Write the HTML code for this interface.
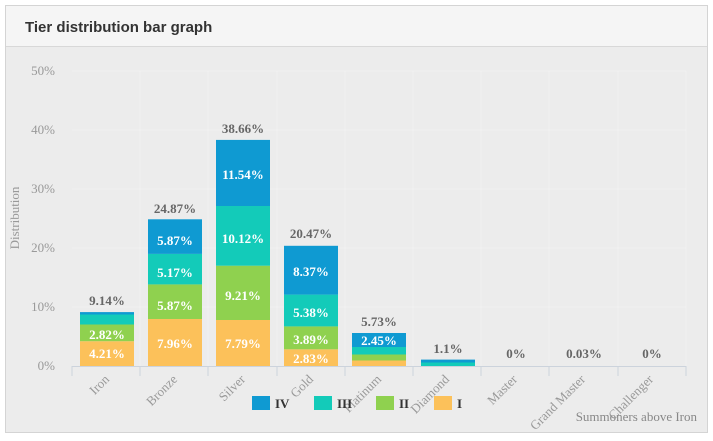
<!DOCTYPE html><html><head><style>body{margin:0;background:#fff}</style></head><body>
<svg width="713" height="436" xmlns="http://www.w3.org/2000/svg" font-family="Liberation Serif, serif">
<rect x="5.5" y="5.5" width="702" height="427" fill="#ececec" stroke="#d4d4d4"/>
<rect x="6" y="6" width="701" height="40" fill="#f5f5f5"/>
<line x1="6" y1="46.5" x2="707" y2="46.5" stroke="#d8d8d8"/>
<text x="25" y="32" font-family="Liberation Sans, sans-serif" font-size="15" font-weight="bold" fill="#333">Tier distribution bar graph</text>
<g stroke="#f1f1f1">
<line x1="72" y1="71" x2="686" y2="71"/><line x1="72" y1="130" x2="686" y2="130"/><line x1="72" y1="189" x2="686" y2="189"/><line x1="72" y1="248" x2="686" y2="248"/><line x1="72" y1="307" x2="686" y2="307"/>
<line x1="140" y1="71" x2="140" y2="366"/><line x1="208" y1="71" x2="208" y2="366"/><line x1="277" y1="71" x2="277" y2="366"/><line x1="345" y1="71" x2="345" y2="366"/><line x1="413" y1="71" x2="413" y2="366"/><line x1="481" y1="71" x2="481" y2="366"/><line x1="549" y1="71" x2="549" y2="366"/><line x1="618" y1="71" x2="618" y2="366"/><line x1="686" y1="71" x2="686" y2="366"/>
</g>
<g font-size="13" fill="#999" text-anchor="end">
<text x="55" y="75">50%</text><text x="55" y="134">40%</text><text x="55" y="193">30%</text><text x="55" y="252">20%</text><text x="55" y="311">10%</text><text x="55" y="370">0%</text>
</g>
<text transform="translate(19,218) rotate(-90)" font-size="13" fill="#999" text-anchor="middle">Distribution</text>
<g stroke="#ccd3dc"><line x1="72" y1="366.5" x2="686" y2="366.5"/>
<line x1="72" y1="366" x2="72" y2="376"/><line x1="140" y1="366" x2="140" y2="376"/><line x1="208" y1="366" x2="208" y2="376"/><line x1="277" y1="366" x2="277" y2="376"/><line x1="345" y1="366" x2="345" y2="376"/><line x1="413" y1="366" x2="413" y2="376"/><line x1="481" y1="366" x2="481" y2="376"/><line x1="549" y1="366" x2="549" y2="376"/><line x1="618" y1="366" x2="618" y2="376"/><line x1="686" y1="366" x2="686" y2="376"/></g>
<g>
<rect x="80" y="341.2" width="54" height="24.8" fill="#fcc15a"/><rect x="80" y="324.5" width="54" height="16.7" fill="#8fd14f"/><rect x="80" y="314.5" width="54" height="10" fill="#13cbb9"/><rect x="80" y="312.1" width="54" height="2.4" fill="#0f9ad2"/>
<rect x="148" y="319" width="54" height="47" fill="#fcc15a"/><rect x="148" y="284.4" width="54" height="34.6" fill="#8fd14f"/><rect x="148" y="253.9" width="54" height="30.5" fill="#13cbb9"/><rect x="148" y="219.3" width="54" height="34.6" fill="#0f9ad2"/>
<rect x="216" y="320" width="54" height="46" fill="#fcc15a"/><rect x="216" y="265.7" width="54" height="54.3" fill="#8fd14f"/><rect x="216" y="206" width="54" height="59.7" fill="#13cbb9"/><rect x="216" y="139.9" width="54" height="66.1" fill="#0f9ad2"/>
<rect x="284" y="349.3" width="54" height="16.7" fill="#fcc15a"/><rect x="284" y="326.4" width="54" height="22.9" fill="#8fd14f"/><rect x="284" y="294.6" width="54" height="31.8" fill="#13cbb9"/><rect x="284" y="245.8" width="54" height="48.8" fill="#0f9ad2"/>
<rect x="352" y="360.5" width="54" height="5.5" fill="#fcc15a"/><rect x="352" y="354.5" width="54" height="6" fill="#8fd14f"/><rect x="352" y="347" width="54" height="7.5" fill="#13cbb9"/><rect x="352" y="333" width="54" height="14" fill="#0f9ad2"/>
<rect x="421" y="362.5" width="54" height="3.5" fill="#13cbb9"/><rect x="421" y="359.6" width="54" height="2.9" fill="#0f9ad2"/>
</g>
<g font-size="13" font-weight="bold" fill="#fff" text-anchor="middle">
<text x="107" y="339">2.82%</text><text x="107" y="358">4.21%</text>
<text x="175" y="245">5.87%</text><text x="175" y="277">5.17%</text><text x="175" y="310">5.87%</text><text x="175" y="348">7.96%</text>
<text x="243" y="179">11.54%</text><text x="243" y="243">10.12%</text><text x="243" y="300">9.21%</text><text x="243" y="348">7.79%</text>
<text x="311" y="276">8.37%</text><text x="311" y="317">5.38%</text><text x="311" y="344">3.89%</text><text x="311" y="363">2.83%</text>
<text x="379" y="345">2.45%</text>
</g>
<g font-size="13" font-weight="bold" fill="#666" text-anchor="middle">
<text x="107" y="305">9.14%</text><text x="175" y="213">24.87%</text><text x="243" y="133">38.66%</text><text x="311" y="238">20.47%</text><text x="379" y="326">5.73%</text>
<text x="448" y="353">1.1%</text><text x="516" y="358">0%</text><text x="584" y="358">0.03%</text><text x="652" y="358">0%</text>
</g>
<g font-size="13" fill="#999" text-anchor="end">
<text transform="translate(110,380) rotate(-45)">Iron</text>
<text transform="translate(178,380) rotate(-45)">Bronze</text>
<text transform="translate(246,380) rotate(-45)">Silver</text>
<text transform="translate(314,380) rotate(-45)">Gold</text>
<text transform="translate(382,380) rotate(-45)">Platinum</text>
<text transform="translate(450,380) rotate(-45)">Diamond</text>
<text transform="translate(518,380) rotate(-45)">Master</text>
<text transform="translate(586,380) rotate(-45)">Grand Master</text>
<text transform="translate(654,380) rotate(-45)">Challenger</text>
</g>
<text x="697" y="421" font-size="13" fill="#888" text-anchor="end">Summoners above Iron</text>
<g font-size="13" font-weight="bold" fill="#333">
<rect x="252" y="396" width="18" height="14" fill="#0f9ad2"/><text x="275" y="408">IV</text>
<rect x="314" y="396" width="18" height="14" fill="#13cbb9"/><text x="337" y="408">III</text>
<rect x="376" y="396" width="18" height="14" fill="#8fd14f"/><text x="399" y="408">II</text>
<rect x="434" y="396" width="18" height="14" fill="#fcc15a"/><text x="457" y="408">I</text>
</g>
</svg>
</body></html>
